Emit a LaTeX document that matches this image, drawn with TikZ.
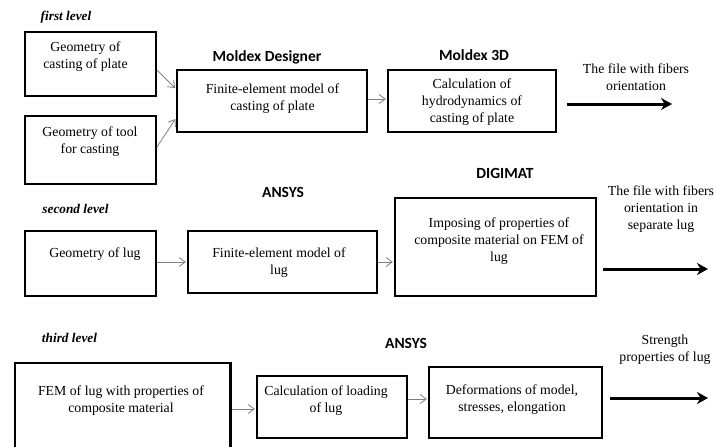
\documentclass[tikz,border=0pt]{standalone}
\usepackage{fontspec}
\setmainfont{Liberation Serif}
\newfontfamily\toolfont{Carlito}
\usetikzlibrary{arrows.meta}

\tikzset{
  stage/.style={draw, line width=2.4pt, inner sep=0pt},
  stagetext/.style={align=center, inner sep=0pt, font=\fontsize{13.8}{17}\selectfont},
  tool/.style={inner sep=0pt, font=\toolfont\bfseries\fontsize{15.5}{18}\selectfont},
  level/.style={inner sep=0pt, font=\bfseries\itshape\fontsize{13.3}{16}\selectfont},
  flow/.style={draw=gray, line width=0.8pt, shorten >=1.2pt, -{Straight Barb[length=6pt,width=9pt]}},
  result/.style={line width=3pt, -{Stealth[length=11pt,width=12pt,inset=3.5pt]}},
}

\begin{document}
\begin{tikzpicture}[x=1pt, y=-1pt]
  \useasboundingbox (0,0) rectangle (715,447);
  \clip (0,0) rectangle (715,447);

  % first level
  \node[level] (lvl1) at (66,17) {first level};
  \node[stage, minimum width=130.6pt, minimum height=63.6pt] (geoplate) at (90.5,64) {};
  \node[stagetext] (geoplate-t) at (85.5,56.5) {Geometry of\\casting of plate};
  \node[stage, minimum width=130.6pt, minimum height=67.6pt] (geotool) at (90.5,150) {};
  \node[stagetext] (geotool-t) at (90,141.5) {Geometry of tool\\for casting};
  \node[tool] (moldexd) at (267,57) {Moldex Designer};
  \node[stage, minimum width=189.6pt, minimum height=61.6pt] (femplate) at (272,101) {};
  \node[stagetext] (femplate-t) at (272.5,99) {Finite-element model of\\casting of plate};
  \node[tool] (moldex3d) at (474,55) {Moldex 3D};
  \node[stage, minimum width=167.6pt, minimum height=61.6pt] (hydro) at (472,101) {};
  \node[stagetext] (hydro-t) at (472,102) {Calculation of\\hydrodynamics of\\casting of plate};
  \node[stagetext] (fibers1) at (636,77.5) {The file with fibers\\orientation};
  \coordinate (out1a) at (567,104);
  \coordinate (out1b) at (672,104);

  \draw[flow] ([yshift=-6pt]geoplate.east) -- ([yshift=12pt]femplate.west);
  \draw[flow] ([yshift=3pt]geotool.east) -- ([yshift=-17pt]femplate.west);
  \draw[flow] ([yshift=2pt]femplate.east) -- ([yshift=2pt]hydro.west);
  \draw[result] (out1a) -- (out1b);

  % second level
  \node[level] (lvl2) at (75.5,209) {second level};
  \node[tool] (ansys1) at (283,192) {ANSYS};
  \node[tool] (digimat) at (505,173) {DIGIMAT};
  \node[stage, minimum width=130.6pt, minimum height=64.6pt] (geolug) at (90.5,263.5) {};
  \node[stagetext] (geolug-t) at (95,254) {Geometry of lug};
  \node[stage, minimum width=188.6pt, minimum height=61.6pt] (femlug) at (282.5,262) {};
  \node[stagetext] (femlug-t) at (279,262.5) {Finite-element model of\\lug};
  \node[stage, minimum width=200.6pt, minimum height=97.6pt] (impose) at (495.5,247) {};
  \node[stagetext] (impose-t) at (499,241) {Imposing of properties of\\composite material on FEM of\\lug};
  \node[stagetext] (fibers2) at (661,209) {The file with fibers\\orientation in\\separate lug};
  \coordinate (out2a) at (603,269);
  \coordinate (out2b) at (708,269);

  \draw[flow] ([yshift=1.5pt]geolug.east) -- (femlug.west);
  \draw[flow] (femlug.east) -- ([yshift=-15pt]impose.west);
  \draw[result] (out2a) -- (out2b);

  % third level
  \node[level] (lvl3) at (69.5,338) {third level};
  \node[tool] (ansys2) at (406,343) {ANSYS};
  \node[stage, minimum width=215.6pt, minimum height=115.6pt] (femprop) at (122.5,421) {};
  \node[stagetext] (femprop-t) at (121,400.5) {FEM of lug with properties of\\composite material};
  \node[stage, minimum width=149.6pt, minimum height=61.6pt] (loading) at (332,407) {};
  \node[stagetext] (loading-t) at (326,400.5) {Calculation of loading\\of lug};
  \node[stage, minimum width=172.6pt, minimum height=70.6pt] (deform) at (515.5,402.5) {};
  \node[stagetext] (deform-t) at (512,399.5) {Deformations of model,\\stresses, elongation};
  \node[stagetext] (strength) at (665,350) {Strength\\properties of lug};
  \coordinate (out3a) at (610,398);
  \coordinate (out3b) at (708,398);

  \draw[flow] ([yshift=12pt]femprop.east) -- ([yshift=-2pt]loading.west);
  \draw[flow] ([yshift=8pt]loading.east) -- ([yshift=3.5pt]deform.west);
  \draw[result] (out3a) -- (out3b);
\end{tikzpicture}
\end{document}
